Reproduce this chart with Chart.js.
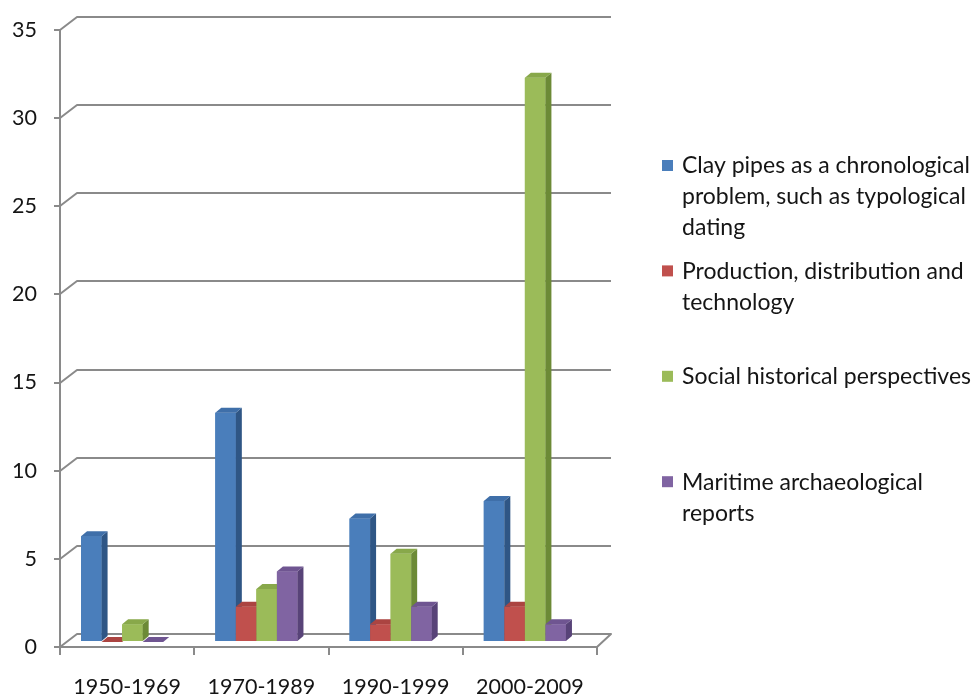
<!DOCTYPE html>
<html>
<head>
<meta charset="utf-8">
<script src="https://cdn.jsdelivr.net/npm/chart.js@4.4.1/dist/chart.umd.min.js"></script>
<style>
  html, body { margin: 0; padding: 0; background: #ffffff; }
  #wrap { width: 971px; height: 697px; position: relative; }
</style>
</head>
<body>
<div id="wrap"><canvas id="chart" width="971" height="697"></canvas></div>
<script>
// Publications on clay pipes by decade and research theme
const categories = ['1950-1969', '1970-1989', '1990-1999', '2000-2009'];
const clayPipesChronology = [6, 13, 7, 8];
const productionDistribution = [0, 2, 1, 2];
const socialHistorical = [1, 3, 5, 32];
const maritimeReports = [0, 4, 2, 1];

// Legend text, one entry per line
const chronologyLabel = ['Clay pipes as a chronological', 'problem, such as typological', 'dating'];
const productionLabel = ['Production, distribution and', 'technology'];
const socialLabel = ['Social historical perspectives'];
const maritimeLabel = ['Maritime archaeological', 'reports'];

// Value axis
const yMin = 0;
const yMax = 35;
const yStep = 5;

const FONT = 'Lato';
const TEXT = '#151515';
const LINE = '#8a8a8a';

// Face colours: front, side, top
const palette = [
  { front: '#4a7ebb', side: '#2f5685', top: '#3f6fa9' },
  { front: '#c0504d', side: '#8a3432', top: '#ab4441' },
  { front: '#9bbb59', side: '#6c8a36', top: '#88a84a' },
  { front: '#8064a2', side: '#584378', top: '#6f5591' }
];

// Projection of the back wall and of the bar depth
const WALL_DX = 17, WALL_DY = -13;
const BAR_DX = 6, BAR_DY = -5;
const BAR_SHIFT_X = -5, BAR_SHIFT_Y = -5;

const wall3d = {
  id: 'wall3d',
  beforeDatasetsDraw(chart) {
    const { ctx, chartArea, scales } = chart;
    const y = scales.y;
    ctx.save();
    ctx.strokeStyle = LINE;
    ctx.lineWidth = 2;
    ctx.lineJoin = 'round';
    for (let v = yMin; v <= yMax; v += yStep) {
      const py = Math.round(y.getPixelForValue(v));
      ctx.beginPath();
      ctx.moveTo(chartArea.left, py);
      ctx.lineTo(chartArea.left + WALL_DX, py + WALL_DY);
      ctx.lineTo(chartArea.right + WALL_DX - 3, py + WALL_DY);
      if (v === yMin) {
        ctx.lineTo(chartArea.right, py);
      }
      ctx.stroke();
    }
    ctx.restore();
    // bars sit part way into the depth of the floor
    ctx.save();
    ctx.translate(BAR_SHIFT_X, BAR_SHIFT_Y);
  },
  afterDatasetsDraw(chart) {
    const { ctx } = chart;
    const metas = chart.data.datasets.map((_, i) => chart.getDatasetMeta(i));
    const n = categories.length;
    for (let j = 0; j < n; j++) {
      metas.forEach((meta, i) => {
        const el = meta.data[j];
        const p = el.getProps(['x', 'y', 'base', 'width'], true);
        const left = p.x - p.width / 2;
        const right = p.x + p.width / 2;
        const top = Math.min(p.y, p.base);
        const bottom = Math.max(p.y, p.base);
        const c = palette[i];
        ctx.fillStyle = c.front;
        ctx.fillRect(left, top, right - left, bottom - top);
        ctx.fillStyle = c.side;
        ctx.beginPath();
        ctx.moveTo(right, top);
        ctx.lineTo(right + BAR_DX, top + BAR_DY);
        ctx.lineTo(right + BAR_DX, bottom + BAR_DY);
        ctx.lineTo(right, bottom);
        ctx.closePath();
        ctx.fill();
        ctx.fillStyle = c.top;
        ctx.beginPath();
        ctx.moveTo(left, top);
        ctx.lineTo(left + BAR_DX, top + BAR_DY);
        ctx.lineTo(right + BAR_DX, top + BAR_DY);
        ctx.lineTo(right, top);
        ctx.closePath();
        ctx.fill();
      });
    }
    ctx.restore();
  }
};

const sideLegend = {
  id: 'sideLegend',
  afterDraw(chart) {
    const { ctx } = chart;
    const entries = [chronologyLabel, productionLabel, socialLabel, maritimeLabel];
    ctx.save();
    ctx.font = '23px ' + FONT;
    ctx.textBaseline = 'middle';
    ctx.fillStyle = TEXT;
    entries.forEach((lines, i) => {
      const y0 = 166 + i * 105.4;
      ctx.fillStyle = palette[i].front;
      ctx.fillRect(662, y0 - 6, 11, 11);
      ctx.fillStyle = TEXT;
      lines.forEach((t, k) => ctx.fillText(t, 682, y0 + k * 31));
    });
    ctx.restore();
  }
};

const datasets = [
  { label: chronologyLabel.join(' '), data: clayPipesChronology },
  { label: productionLabel.join(' '), data: productionDistribution },
  { label: socialLabel.join(' '), data: socialHistorical },
  { label: maritimeLabel.join(' '), data: maritimeReports }
].map((d, i) => Object.assign(d, {
  backgroundColor: palette[i].front,
  borderWidth: 0,
  categoryPercentage: 0.612,
  barPercentage: 1.0,
  clip: false
}));

new Chart(document.getElementById('chart'), {
  type: 'bar',
  data: { labels: categories, datasets },
  options: {
    responsive: false,
    animation: false,
    devicePixelRatio: 1,
    layout: { padding: { top: 27, right: 374, left: 0, bottom: 0 } },
    plugins: { legend: { display: false }, tooltip: { enabled: false } },
    scales: {
      x: {
        grid: { offset: true, drawOnChartArea: false, drawTicks: true, tickLength: 8, color: LINE, lineWidth: 2 },
        border: { display: true, color: LINE, width: 2 },
        ticks: { color: TEXT, font: { family: FONT, size: 21.5 }, padding: 19, maxRotation: 0 },
        afterFit(s) { s.height = 50; }
      },
      y: {
        min: yMin,
        max: yMax,
        grid: { drawOnChartArea: false, drawTicks: true, tickLength: 6, color: LINE, lineWidth: 2 },
        border: { display: true, color: LINE, width: 2 },
        ticks: { stepSize: yStep, color: TEXT, font: { family: FONT, size: 21.5 }, padding: 17 },
        afterFit(s) { s.width = 60; }
      }
    }
  },
  plugins: [wall3d, sideLegend]
});
</script>
</body>
</html>
